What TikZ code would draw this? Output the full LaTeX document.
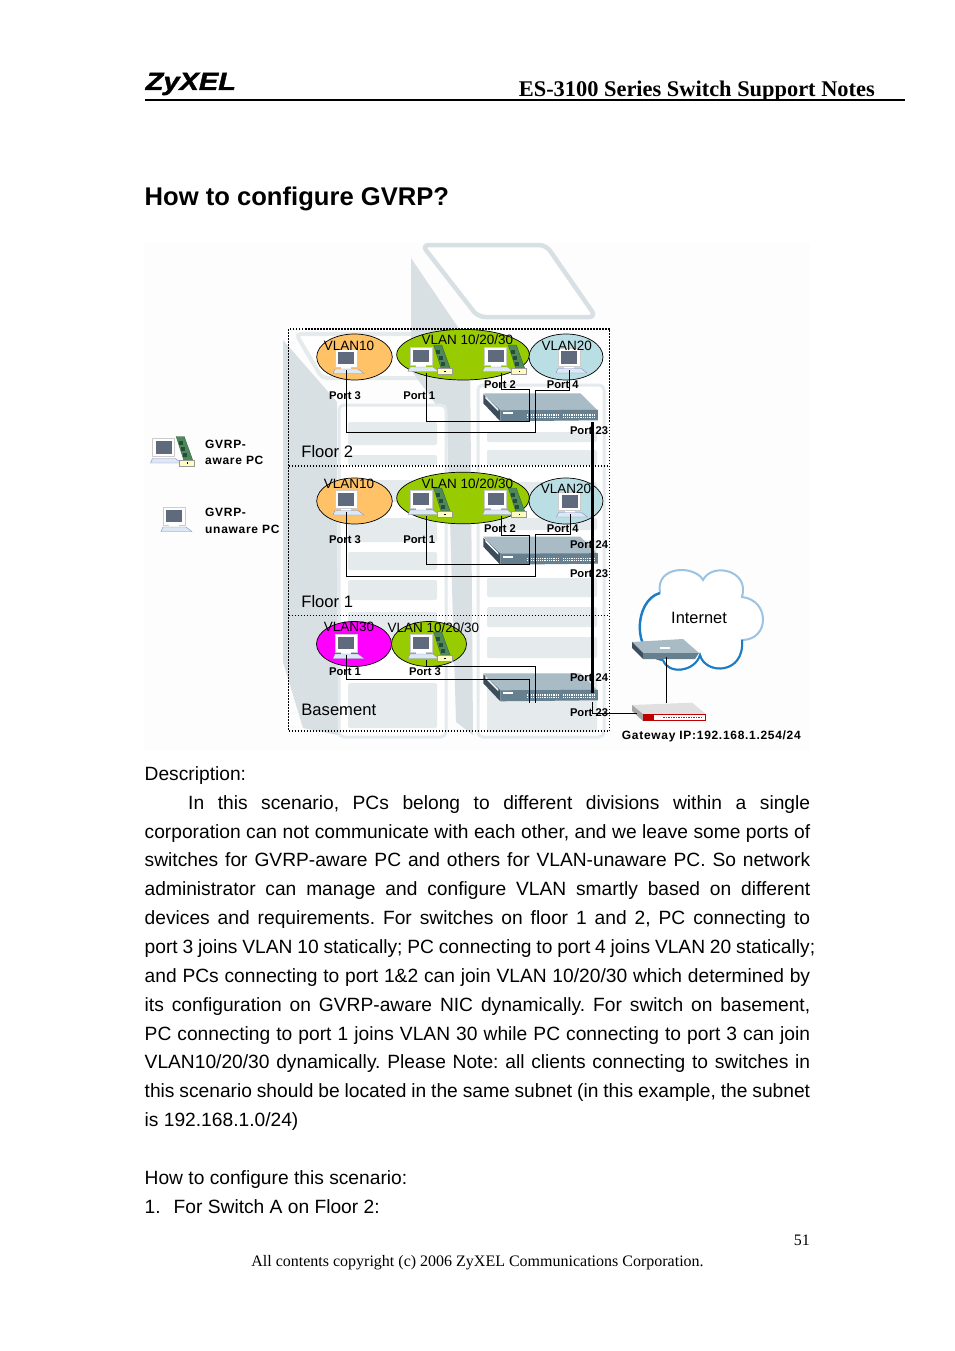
\documentclass[tikz,border=0pt]{standalone}
\usepackage{fontspec}
\usetikzlibrary{shapes.geometric}
\setmainfont{Liberation Sans}
\newfontfamily\serifpart{Liberation Serif}
\newfontfamily\spacedfont[LetterSpace=5.8]{Liberation Sans}
\newfontfamily\logofont[ItalicFont={Liberation Sans Bold Italic},FakeBold=1.6,FakeStretch=1.16]{Liberation Sans Bold Italic}
\frenchspacing
\definecolor{wallgray}{HTML}{D9E0E4}
\definecolor{panelgray}{HTML}{E5EAED}
\definecolor{vlanorange}{HTML}{FFC266}
\definecolor{vlangreen}{HTML}{99CC00}
\definecolor{vlanblue}{HTML}{B9DEE3}
\definecolor{vlanpink}{HTML}{FF00FF}
\definecolor{swtop}{HTML}{A9BBC4}
\definecolor{swfront}{HTML}{66808F}
\definecolor{swside}{HTML}{3C4E5C}
\definecolor{cloudlight}{HTML}{9CC3E2}
\definecolor{clouddark}{HTML}{1B7DC6}
\definecolor{screengray}{HTML}{5F6B7D}
\definecolor{kbdblue}{HTML}{DCE9F5}
\definecolor{nicgreen}{HTML}{4C8A5C}
\definecolor{nicchip}{HTML}{2B4A3A}
\tikzset{
    vlan/.style={draw=black,line width=.7pt,ellipse,inner sep=0pt,minimum height=#1},
    wire/.style={line width=1pt,black},
    trunk/.style={line width=2.6pt,black},
    dotline/.style={line width=1.6pt,black,dash pattern=on 1.5pt off 1.5pt},
    portlbl/.style={font=\fontsize{11.2}{12}\selectfont\bfseries,inner sep=0pt},
    vlanlbl/.style={font=\fontsize{13.5}{14}\selectfont,inner sep=0pt},
    floorlbl/.style={font=\fontsize{16.6}{18}\selectfont,inner sep=0pt,anchor=west},
    legendlbl/.style={font=\fontsize{12}{13}\spacedfont\bfseries,inner sep=0pt,anchor=west},
    bodyline/.style={font=\fontsize{19.2}{20}\selectfont,inner sep=0pt,anchor=base west},
    slot/.style={fill=panelgray,rounded corners=2pt},
    pcbox/.pic={
        \fill[white,draw=black!20,line width=.3pt] (-11,-9) rectangle (11,9);
        \fill[screengray] (-8,-6.5) rectangle (8,6);
        \fill[white] (-5,9) rectangle (5,11);
        \fill[kbdblue,draw=blue!30!gray!70,line width=.4pt] (-11,11) -- (12,11) -- (18,15.5) -- (-13,15.5) -- cycle;
        \coordinate (-out) at (.7,12);
    },
    nicpc/.pic={
        \pic (-pc) at (0,0) {pcbox};
        \fill[nicgreen,draw=nicgreen!70!black,line width=.4pt] (12.7,-11) -- (20.7,-11) -- (29.7,14) -- (20.7,14) -- cycle;
        \foreach \slotpos in {-6,0,6}
            \fill[nicchip] (17.5+\slotpos*.36,\slotpos-.5) rectangle ++(4,4);
        \fill[yellow!25,draw=black!40,line width=.3pt] (15.7,12.5) rectangle (30.7,18.3);
        \fill[black] (23,14.5) rectangle ++(1.6,1.6);
        \coordinate (-out) at (5.7,17);
    },
    switchbox/.pic={
        \fill[swtop] (0,0) -- (97,0) -- (114,17) -- (17,18) -- cycle;
        \fill[swside] (0,1) -- (17,17) -- (17,28) -- (0,10) -- cycle;
        \fill[white] (2,3) -- (15,16) -- (15,18) -- (2,5) -- cycle;
        \fill[swfront] (17,17) -- (114.5,16.5) -- (114.5,27) -- (17,28) -- cycle;
        \fill[white] (20,19) rectangle (30,21);
        \foreach \rowy in {21.5,24} {
            \draw[white,line width=1.4pt,dash pattern=on 1pt off .8pt] (44,\rowy) -- (75,\rowy);
            \draw[white,line width=1.4pt,dash pattern=on 1pt off .8pt] (80,\rowy) -- (111,\rowy);
        }
        \coordinate (-ina) at (46.4,20);
        \coordinate (-inb) at (52.4,20);
        \coordinate (-lowa) at (46.4,29.4);
        \coordinate (-lowb) at (52.4,29.4);
        \coordinate (-up) at (109,20);
        \coordinate (-down) at (109,29);
    },
}
\begin{document}
\begin{tikzpicture}[x=1pt,y=-1pt]
    \useasboundingbox (0,0) rectangle (954,1351);
    \fill[white] (0,0) rectangle (954,1351);
    % page header
    \node[font=\fontsize{25}{26}\logofont,inner sep=0pt,anchor=base west] (logo) at (145.5,90) {ZyXEL};
    \node[font=\fontsize{22.4}{24}\serifpart\bfseries,inner sep=0pt,anchor=base east] (headtxt) at (875,97) {ES-3100 Series Switch Support Notes};
    \draw[line width=2pt] (144.5,100.5) -- (905,100.5);
    \node[font=\fontsize{25.6}{28}\selectfont\bfseries,inner sep=0pt,anchor=base west] (title) at (144.5,205) {How to configure GVRP?};
    % backdrop
    \fill[black!.7] (144,243) rectangle (810,750);
    \fill[wallgray] (283,340) -- (337,402) -- (338,735) -- (303,728) -- (283,662) -- cycle;
    \draw[panelgray,line width=4pt,fill=white,rounded corners=5pt] (296,334) -- (418,334) -- (436,378) -- (322,378) -- cycle;
    \fill[wallgray] (411,258) -- (470,345) -- (473,735) -- (456,722) -- (447,420) -- (411,370) -- cycle;
    \draw[wallgray,line width=4.5pt,fill=white,rounded corners=7pt] (422,245) -- (546,245) -- (596,317) -- (478,317) -- cycle;
    \draw[panelgray,line width=3pt,fill=white,rounded corners=5pt] (339,405) rectangle (446,737);
    \draw[panelgray,line width=3pt,fill=white,rounded corners=5pt] (478,385) rectangle (604,737);
    \foreach \ya/\yb in {422/445,455/465,480/502,518/542,552/570,580/600,612/650,683/728}
        \fill[slot] (348,\ya) rectangle (437,\yb);
    \foreach \ya/\yb in {432/442,450/465,482/502,518/530,540/552,578/597,607/627,637/658,675/732}
        \fill[slot] (487,\ya) rectangle (597,\yb);
    % floors
    \draw[dotline] (288.5,329) rectangle (609.5,731);
    \draw[dotline,line width=1.1pt] (288.5,466) -- (609.5,466);
    \draw[dotline,line width=1.1pt] (288.5,615.7) -- (609.5,615.7);
    % groups
    \node[vlan=46pt,minimum width=75.6pt,fill=vlanorange] (grpAa) at (354.5,357) {};
    \node[vlan=50.6pt,minimum width=132.6pt,fill=vlangreen] (grpAb) at (463,354.7) {};
    \node[vlan=46pt,minimum width=74pt,fill=vlanblue] (grpAc) at (566,357) {};
    \node[vlan=46pt,minimum width=75.6pt,fill=vlanorange] (grpBa) at (354.5,501) {};
    \node[vlan=51.6pt,minimum width=132.6pt,fill=vlangreen] (grpBb) at (463,498) {};
    \node[vlan=46pt,minimum width=74pt,fill=vlanblue] (grpBc) at (566,501) {};
    \node[vlan=45pt,minimum width=75pt,fill=vlanpink] (grpCa) at (354,644) {};
    \node[vlan=45pt,minimum width=75pt,fill=vlangreen] (grpCb) at (429,644) {};
    % PCs
    \pic (pcAa) at (346,358) {pcbox};
    \pic (pcAb) at (421,356) {nicpc};
    \pic (pcAc) at (495.6,356) {nicpc};
    \pic (pcAd) at (569,357.5) {pcbox};
    \pic (pcBa) at (346,499.5) {pcbox};
    \pic (pcBb) at (421,499) {nicpc};
    \pic (pcBc) at (495.6,499) {nicpc};
    \pic (pcBd) at (569.5,501.5) {pcbox};
    \pic (pcCa) at (346,643) {pcbox};
    \pic (pcCb) at (421,643) {nicpc};
    \pic (pcLa) at (163.5,447.5) {nicpc};
    \pic (pcLb) at (174,516) {pcbox};
    % switches
    \pic (swA) at (483.3,393.3) {switchbox};
    \pic (swB) at (483.3,536.7) {switchbox};
    \pic (swC) at (483.3,673.3) {switchbox};
    % wires, floor 2
    \draw[wire] (pcAa-out) -- ++(0,62) -| (swA-inb);
    \draw[wire] (pcAb-out) -- ++(0,48) -| (swA-ina);
    \draw[wire] (pcAc-out) -- ++(0,16.7) -| (swA-ina);
    \draw[wire] (pcAd-out) -- ++(0,20.5) -| (swA-inb);
    % wires, floor 1
    \draw[wire] (pcBa-out) -- ++(0,64.5) -| (swB-inb);
    \draw[wire] (pcBb-out) -- ++(0,48.3) -| (swB-ina);
    \draw[wire] (pcBc-out) -- ++(0,19) -| (swB-ina);
    \draw[wire] (pcBd-out) -- ++(0,20.5) -| (swB-inb);
    % wires, basement
    \draw[wire] (pcCa-out) -- ++(0,24.3) -| (swC-lowa);
    \draw[wire] (pcCb-out) -- ++(0,6.7) -| (swC-lowb);
    % cloud and gateway
    \coordinate (cA) at (660,593);
    \coordinate (cB) at (703,580);
    \coordinate (cC) at (742,597);
    \coordinate (cD) at (742,640);
    \coordinate (cE) at (700,655);
    \coordinate (cF) at (663,660);
    \draw[cloudlight,line width=2pt,fill=white] (cA) .. controls (655,565) and (695,565) .. (cB)
        .. controls (712,562) and (750,570) .. (cC)
        .. controls (770,600) and (770,640) .. (cD)
        .. controls (745,675) and (705,675) .. (cE)
        .. controls (695,672) and (668,675) .. (cF)
        .. controls (631,655) and (634,600) .. (cA);
    \draw[clouddark,line width=2.4pt] (cF) .. controls (631,655) and (634,600) .. (cA);
    \draw[clouddark,line width=2pt] (cD) .. controls (745,675) and (705,675) .. (cE)
        .. controls (695,672) and (668,675) .. (cF);
    \node[font=\fontsize{16.4}{18}\selectfont,inner sep=0pt] (inet) at (699,618.3) {Internet};
    \fill[swtop] (632,642) -- (683,639) -- (699,653) -- (643,653) -- cycle;
    \fill[swside] (632,642) -- (643,653) -- (643,659) -- (632,648) -- cycle;
    \fill[swfront] (643,653) -- (699,653) -- (695,659) -- (643,659) -- cycle;
    \fill[white] (660,647) rectangle (670,648.5);
    \coordinate (rtOut) at (666.7,657);
    \fill[black!12] (632,705) -- (692,702.7) -- (706,714) -- (643,714) -- cycle;
    \fill[black!35] (632,705) -- (643,714) -- (643,721) -- (632,711) -- cycle;
    \fill[white,draw=red!75!black,line width=1pt] (643.5,714.5) rectangle (705.5,720.5);
    \fill[red!75!black] (644,714.5) rectangle (654,720.5);
    \draw[black!70,line width=1.6pt,dash pattern=on 1.5pt off 1pt] (663,717.5) -- (702,717.5);
    \coordinate (gwTop) at (666.7,702.7);
    \coordinate (gwWan) at (637,713.7);
    \draw[wire] (rtOut) -- (gwTop);
    \draw[trunk] (swA-down) -- (swC-up);
    \draw[wire] (swC-down) |- (gwWan);
    % labels
    \foreach \lblname/\lblx/\lbly/\lbltxt in {%
        a/345/396/Port 3,b/419.3/396/Port 1,c/500/384.3/Port 2,d/562.7/384.3/Port 4,e/589/430.7/Port 23,%
        f/345/540/Port 3,g/419.3/540/Port 1,h/500/528.3/Port 2,i/562.7/528.3/Port 4,j/589/545/Port 24,k/589/574/Port 23,%
        l/345/671.7/Port 1,m/425/671.7/Port 3,n/589/677.7/Port 24,o/589/712.3/Port 23}
        \node[portlbl] (port\lblname) at (\lblx,\lbly) {\lbltxt};
    \foreach \lblname/\lblx/\lbly/\lbltxt in {%
        a/349/346/VLAN10,b/467.3/339.3/{VLAN 10/20/30},c/566.7/345.7/VLAN20,%
        d/349/484/VLAN10,e/467.3/484/{VLAN 10/20/30},f/566/489/VLAN20,%
        g/349/627.3/VLAN30,h/433.3/627.3/{VLAN 10/20/30}}
        \node[vlanlbl] (vlan\lblname) at (\lblx,\lbly) {\lbltxt};
    \node[floorlbl] (floorA) at (301.2,451.7) {Floor 2};
    \node[floorlbl] (floorB) at (301.2,601.7) {Floor 1};
    \node[floorlbl] (floorC) at (301.2,710) {Basement};
    \node[legendlbl] (legA) at (205,444) {GVRP-};
    \node[legendlbl] (legB) at (205,460) {aware PC};
    \node[legendlbl] (legC) at (205,512.3) {GVRP-};
    \node[legendlbl] (legD) at (205,529) {unaware PC};
    \node[legendlbl] (gwlbl) at (621.7,736.7) {Gateway IP:192.168.1.254/24};
    % page text
    \node[bodyline] (txtA) at (144.5,780) {Description:};
    \foreach \liney/\linex/\linew/\linetxt in {%
        809/188/622/{In this scenario, PCs belong to different divisions within a single},%
        838/144.5/665.5/{corporation can not communicate with each other, and we leave some ports of},%
        866/144.5/665.5/{switches for GVRP-aware PC and others for VLAN-unaware PC. So network},%
        895/144.5/665.5/{administrator can manage and configure VLAN smartly based on different},%
        924/144.5/665.5/{devices and requirements. For switches on floor 1 and 2, PC connecting to},%
        953/144.5/670.5/{port 3 joins VLAN 10 statically; PC connecting to port 4 joins VLAN 20 statically;},%
        982/144.5/665.5/{and PCs connecting to port 1\&2 can join VLAN 10/20/30 which determined by},%
        1011/144.5/665.5/{its configuration on GVRP-aware NIC dynamically. For switch on basement,},%
        1040/144.5/665.5/{PC connecting to port 1 joins VLAN 30 while PC connecting to port 3 can join},%
        1068/144.5/665.5/{VLAN10/20/30 dynamically. Please Note: all clients connecting to switches in},%
        1097/144.5/665.5/{this scenario should be located in the same subnet (in this example, the subnet}}
        \node[bodyline] (txt\liney) at (\linex,\liney) {\makebox[\linew pt][s]{\linetxt}};
    \node[bodyline] (txtM) at (144.5,1126) {is 192.168.1.0/24)};
    \node[bodyline] (txtN) at (144.5,1184) {How to configure this scenario:};
    \node[bodyline] (txtO) at (144.5,1213) {\makebox[29pt][l]{1.}For Switch A on Floor 2:};
    % page footer
    \node[font=\fontsize{16}{17}\serifpart,inner sep=0pt,anchor=base east] (pageno) at (810,1245) {51};
    \node[font=\fontsize{16}{17}\serifpart,inner sep=0pt,anchor=base] (copytxt) at (477.5,1266) {All contents copyright (c) 2006 ZyXEL Communications Corporation.};
\end{tikzpicture}
\end{document}
